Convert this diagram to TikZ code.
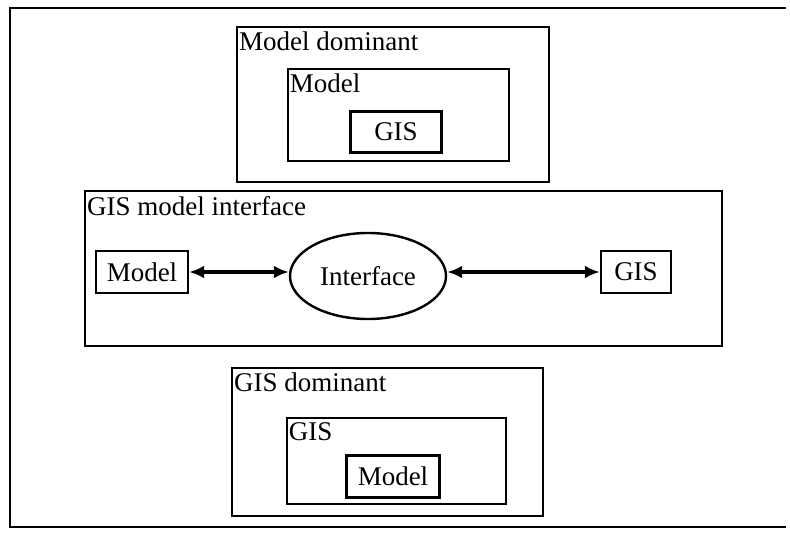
\documentclass[tikz,border=0pt]{standalone}
\usepackage{fontspec}
\setmainfont{Liberation Serif}
\usetikzlibrary{arrows.meta,shapes.geometric}
\tikzset{
  grp/.style={draw,line width=2pt,inner sep=0pt},
  lbl/.style={anchor=north west,inner xsep=3pt,inner ysep=6pt,font=\fontsize{27}{31}\selectfont},
  link/.style={line width=3pt,{Latex[length=15pt,width=13pt]}-{Latex[length=15pt,width=13pt]}},
}
\begin{document}
\begin{tikzpicture}[x=1pt,y=-1pt,font=\fontsize{27}{31}\selectfont]
\useasboundingbox (0,0) rectangle (790,540);
% outer frame, open on the right
\draw[line width=2.2pt] (786,8) -- (10,8) -- (10,527) -- (786,527);
% group boxes: name/left/top/right/bottom/width
\foreach \nm/\xa/\ya/\xb/\yb/\lw in {md/237/27/549/182/2,mdm/288/69/509/161/2.6,gim/85/191/722/346/2,gd/232/368/543/516/2,gdg/287/418/506/504/2.6}{
  \node[grp,line width=\lw pt,minimum width={(\xb-\xa)*1pt},minimum height={(\yb-\ya)*1pt}] (\nm) at ({(\xa+\xb)/2},{(\ya+\yb)/2}) {};
}
\foreach \nm/\txt in {md/Model dominant,mdm/Model,gim/GIS model interface,gd/GIS dominant,gdg/GIS}{
  \node[lbl] (\nm-t) at (\nm.north west) {\txt};
}
% innermost boxes
\node[grp,line width=3pt,minimum width=91pt,minimum height=41pt] (mdg) at (396,132) {GIS};
\node[grp,line width=3pt,minimum width=93pt,minimum height=42pt] (gdm) at (393,476) {Model};
% interface row
\node[grp,line width=2.4pt,minimum width=92pt,minimum height=42pt] (imod) at (142,272) {Model};
\node[grp,line width=2.4pt,ellipse,minimum width=156pt,minimum height=86pt] (ifc) at (368,276) {Interface};
\node[grp,line width=2.4pt,minimum width=70pt,minimum height=42pt] (igis) at (636,272) {GIS};
\draw[link] (imod.east) -- (imod.east -| ifc.west);
\draw[link] (igis.west -| ifc.east) -- (igis.west);
\end{tikzpicture}
\end{document}
